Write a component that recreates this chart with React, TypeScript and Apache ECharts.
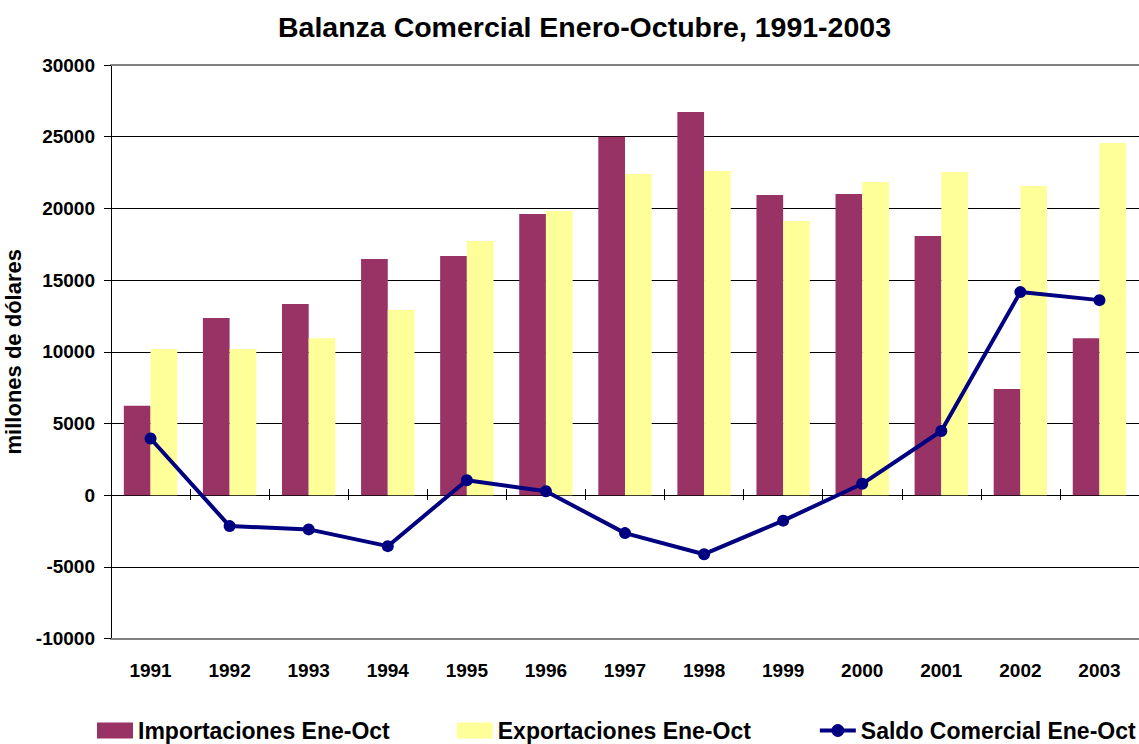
import React, { useEffect, useRef } from "react";
import * as echarts from "echarts";

const years = ["1991", "1992", "1993", "1994", "1995", "1996", "1997", "1998", "1999", "2000", "2001", "2002", "2003"];
const importaciones = [6230, 12350, 13330, 16470, 16680, 19610, 25000, 26720, 20930, 21000, 18070, 7400, 10950];
const exportaciones = [10190, 10190, 10950, 12910, 17720, 19810, 22400, 22600, 19120, 21840, 22530, 21560, 24560];
const saldo = [3950, -2160, -2390, -3560, 1040, 270, -2650, -4120, -1780, 790, 4470, 14160, 13600];
const yTicks = { min: -10000, max: 30000, interval: 5000 };

const FONT = "'Liberation Sans', Arial, sans-serif";

export default function App() {
  const ref = useRef<HTMLDivElement>(null);
  useEffect(() => {
    if (!ref.current) return;
    const chart = echarts.init(ref.current, null, { renderer: "svg" });
    const hiddenCat = {
      type: "category",
      data: years,
      axisLabel: { show: false },
      splitLine: { show: false },
    };
    chart.setOption({
      animation: false,
      backgroundColor: "#ffffff",
      title: {
        text: "Balanza Comercial Enero-Octubre, 1991-2003",
        left: 278,
        top: 12,
        padding: 0,
        textStyle: { fontFamily: FONT, fontWeight: "bold", fontSize: 28.5, color: "#000" },
      },
      grid: {
        left: 111,
        right: 0,
        top: 65,
        bottom: 105.5,
        containLabel: false,
        outerBoundsMode: "none",
      },
      legend: {
        left: 97,
        top: 719,
        padding: 0,
        itemGap: 67,
        itemWidth: 36,
        itemHeight: 16,
        textStyle: { fontFamily: FONT, fontWeight: "bold", fontSize: 23, color: "#000" },
        data: [
          { name: "Importaciones Ene-Oct", icon: "rect" },
          { name: "Exportaciones Ene-Oct", icon: "rect" },
          {
            name: "Saldo Comercial Ene-Oct",
            lineStyle: { width: 4, color: "#000080" },
            itemStyle: { color: "#000080" },
          },
        ],
      },
      xAxis: [
        {
          type: "category",
          data: years,
          position: "bottom",
          axisLine: { onZero: false, lineStyle: { color: "#808080", width: 2 } },
          axisTick: { show: false },
          axisLabel: { margin: 22, fontFamily: FONT, fontWeight: "bold", fontSize: 19, color: "#000" },
          splitLine: { show: false },
        },
        {
          ...hiddenCat,
          position: "top",
          axisLine: { onZero: false, lineStyle: { color: "#808080", width: 2 } },
          axisTick: { show: false },
        },
        {
          ...hiddenCat,
          position: "bottom",
          axisLine: { onZero: true, onZeroAxisIndex: 0, lineStyle: { color: "#000", width: 1 } },
          axisTick: { show: true, inside: true, length: 6, lineStyle: { color: "#000", width: 1 } },
        },
        {
          ...hiddenCat,
          position: "bottom",
          axisLine: { onZero: true, onZeroAxisIndex: 0, lineStyle: { color: "#000", width: 1 } },
          axisTick: { show: true, inside: false, length: 5, lineStyle: { color: "#000", width: 1 } },
        },
      ],
      yAxis: {
        type: "value",
        min: yTicks.min,
        max: yTicks.max,
        interval: yTicks.interval,
        name: "millones de dólares",
        nameLocation: "middle",
        nameRotate: 90,
        nameGap: 76,
        nameTextStyle: { fontFamily: FONT, fontWeight: "bold", fontSize: 22, color: "#000" },
        axisLine: { show: true, lineStyle: { color: "#000", width: 1 } },
        axisTick: { show: true, length: 7, lineStyle: { color: "#000" } },
        axisLabel: {
          margin: 16,
          fontFamily: FONT,
          fontWeight: "bold",
          fontSize: 19,
          color: "#000",
          formatter: (v: number) => String(v),
        },
        splitLine: { show: true, showMinLine: false, showMaxLine: false, lineStyle: { color: "#000", width: 1 } },
      },
      series: [
        {
          name: "Importaciones Ene-Oct",
          type: "bar",
          xAxisIndex: 0,
          data: importaciones,
          barWidth: 26.7,
          barGap: "0%",
          itemStyle: { color: "#993366" },
        },
        {
          name: "Exportaciones Ene-Oct",
          type: "bar",
          xAxisIndex: 0,
          data: exportaciones,
          barWidth: 26.7,
          barGap: "0%",
          itemStyle: { color: "#FFFF99" },
        },
        {
          name: "Saldo Comercial Ene-Oct",
          type: "line",
          xAxisIndex: 0,
          data: saldo,
          symbol: "circle",
          symbolSize: 12,
          z: 5,
          lineStyle: { color: "#000080", width: 4 },
          itemStyle: { color: "#000080" },
        },
      ],
    });
    return () => chart.dispose();
  }, []);
  return (
    <div
      ref={ref}
      style={{ position: "fixed", left: 0, top: 0, width: 1139, height: 744, background: "#fff" }}
    />
  );
}
